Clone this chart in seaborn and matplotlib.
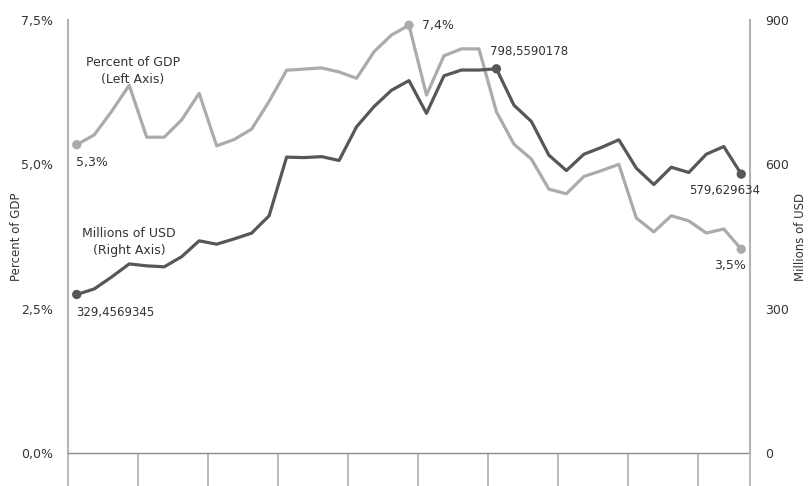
import matplotlib
matplotlib.use("Agg")
import matplotlib.pyplot as plt
import seaborn as sns
import numpy as np
import pandas as pd

# ---- data ----
idx = list(range(39))
pct_gdp = [5.34, 5.51, 5.92, 6.37, 5.47, 5.47, 5.77, 6.23, 5.32, 5.43, 5.61, 6.09, 6.63,
           6.65, 6.67, 6.60, 6.49, 6.95, 7.24, 7.41, 6.20, 6.88, 7.00, 7.00, 5.91, 5.35,
           5.09, 4.57, 4.49, 4.79, 4.89, 5.00, 4.07, 3.83, 4.11, 4.02, 3.81, 3.88, 3.53]
usd_mn = [329.4569345, 341, 366, 393, 389, 387, 408, 441, 434, 445, 457, 493, 615,
          614, 616, 608, 678, 720, 754, 774, 706, 784, 796, 796, 798.5590178, 723,
          689, 619, 587, 621, 635, 651, 592, 558, 594, 583, 621, 637, 579.629634]
left_ticks = [0, 2.5, 5.0, 7.5]
left_tick_labels = ["0,0%", "2,5%", "5,0%", "7,5%"]
right_ticks = [0, 300, 600, 900]
right_tick_labels = ["0", "300", "600", "900"]

df = pd.DataFrame({"idx": idx, "pct": pct_gdp, "usd": usd_mn})

LIGHT = "#ababab"
DARK = "#575757"
TXT = "#333333"
W, H = 809, 486

sns.set_style("white")
plt.rcParams["font.family"] = ["DejaVu Sans"]

fig = plt.figure(figsize=(W / 100, H / 100), dpi=100)
ax = fig.add_axes([68 / W, 1 - 453 / H, (750 - 68) / W, (453 - 20) / H])
ax2 = ax.twinx()

sns.lineplot(data=df, x="idx", y="pct", ax=ax, color=LIGHT, lw=2.3)
sns.lineplot(data=df, x="idx", y="usd", ax=ax2, color=DARK, lw=2.3)

# highlighted points: first, max, last
pi = [0, int(np.argmax(pct_gdp)), len(pct_gdp) - 1]
ui = [0, int(np.argmax(usd_mn)), len(usd_mn) - 1]
sns.scatterplot(x=[idx[i] for i in pi], y=[pct_gdp[i] for i in pi], ax=ax,
                color=LIGHT, s=45, edgecolor="none", zorder=5)
sns.scatterplot(x=[idx[i] for i in ui], y=[usd_mn[i] for i in ui], ax=ax2,
                color=DARK, s=45, edgecolor="none", zorder=5)

ax.set_xlim(-0.5, 38.5)
ax.set_ylim(0, 7.5)
ax2.set_ylim(0, 900)

ax.set_yticks(left_ticks)
ax.set_yticklabels(left_tick_labels)
ax2.set_yticks(right_ticks)
ax2.set_yticklabels(right_tick_labels)
ax.set_xticks(np.arange(-0.5, 39, 4).tolist() + [38.5])
ax.set_xticklabels([])
ax.set_xlabel("")
ax.set_ylabel("")
ax2.set_ylabel("")

ax.tick_params(axis="y", length=0, pad=11, labelsize=9, labelcolor=TXT)
ax2.tick_params(axis="y", length=0, pad=11, labelsize=9, labelcolor=TXT)
ax.tick_params(axis="x", bottom=True, length=33 * 0.72, width=1.1, color="#a8a8a8",
               direction="out")
ax2.tick_params(axis="x", bottom=False, top=False)

for a in (ax, ax2):
    a.spines["top"].set_visible(False)
    a.grid(False)
ax.spines["right"].set_visible(False)
ax2.spines["left"].set_visible(False)
ax2.spines["bottom"].set_visible(False)
ax.spines["left"].set_color("#b4b4b4")
ax.spines["left"].set_linewidth(1.5)
ax2.spines["right"].set_color("#b4b4b4")
ax2.spines["right"].set_linewidth(1.5)
ax.spines["bottom"].set_color("#8c8c8c")
ax.spines["bottom"].set_linewidth(1.0)

def px(x, y):
    return x / W, 1 - y / H

fig.text(*px(17, 237), "Percent of GDP", rotation=90, ha="center", va="center",
         fontsize=8.5, color=TXT)
fig.text(*px(801, 237), "Millions of USD", rotation=90, ha="center", va="center",
         fontsize=8.5, color=TXT)

fig.text(*px(133, 71), "Percent of GDP\n(Left Axis)", ha="center", va="center",
         fontsize=9, color=TXT, linespacing=1.4)
fig.text(*px(129, 242), "Millions of USD\n(Right Axis)", ha="center", va="center",
         fontsize=9, color=TXT, linespacing=1.4)

def fmt_pct(v):
    return f"{v:.1f}%".replace(".", ",")

def fmt_usd(v):
    return str(v).replace(".", ",")

k = 0.72  # px -> points
ax.annotate(fmt_pct(pct_gdp[pi[0]]), (idx[pi[0]], pct_gdp[pi[0]]), xytext=(-1 * k, -18 * k),
            textcoords="offset points", ha="left", va="center", fontsize=9, color=TXT)
ax.annotate(fmt_pct(pct_gdp[pi[1]]), (idx[pi[1]], pct_gdp[pi[1]]), xytext=(13 * k, 0),
            textcoords="offset points", ha="left", va="center", fontsize=9, color=TXT)
ax.annotate(fmt_pct(pct_gdp[pi[2]]), (idx[pi[2]], pct_gdp[pi[2]]), xytext=(5 * k, -16 * k),
            textcoords="offset points", ha="right", va="center", fontsize=9, color=TXT)
ax2.annotate(fmt_usd(usd_mn[ui[0]]), (idx[ui[0]], usd_mn[ui[0]]), xytext=(-0.5 * k, -18 * k),
             textcoords="offset points", ha="left", va="center", fontsize=8.5, color=TXT)
ax2.annotate(fmt_usd(usd_mn[ui[1]]), (idx[ui[1]], usd_mn[ui[1]]), xytext=(-6 * k, 17.5 * k),
             textcoords="offset points", ha="left", va="center", fontsize=8.5, color=TXT)
ax2.annotate(fmt_usd(usd_mn[ui[2]]), (idx[ui[2]], usd_mn[ui[2]]), xytext=(-17 * k, -16 * k),
             textcoords="offset points", ha="center", va="center", fontsize=8.5, color=TXT)

fig.savefig("out.png", dpi=100)
